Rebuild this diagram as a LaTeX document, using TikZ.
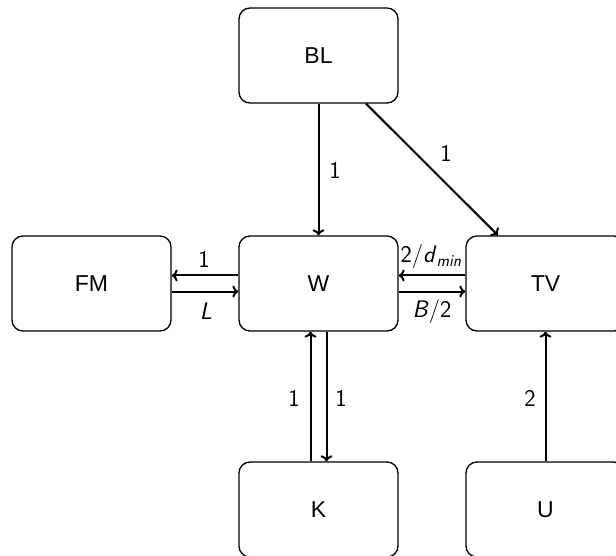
\documentclass[tikz,border=0pt]{standalone}
\usepackage{fontspec}
\newfontfamily\nodefont{Liberation Sans}
\usetikzlibrary{arrows.meta}
\begin{document}
\begin{tikzpicture}[x=1pt,y=-1pt,
  box/.style={draw, rounded corners=11pt, minimum width=159pt, minimum height=95pt,
    line width=1.3pt, font=\nodefont\fontsize{23}{27}\selectfont, inner sep=0pt},
  arr/.style={line width=2pt, -{To[length=6pt,width=12pt]}},
  lab/.style={font=\sffamily\fontsize{24}{28}\selectfont, inner sep=0pt}]
\useasboundingbox (0,0) rectangle (616,556);
\clip (0,0) rectangle (616,556);
\node[box] (BL) at (318.5,55.5) {BL};
\node[box] (FM) at (91.5,283.5) {FM};
\node[box] (W) at (318.5,283.5) {W};
\node[box] (TV) at (545.5,283.5) {TV};
\node[box] (K) at (318.5,509.5) {K};
\node[box] (U) at (545.5,509.5) {U};

\draw[arr] (BL) -- (W);
\draw[arr] ([xshift=47.5]BL.south) -- ([xshift=-47.5]TV.north);
\draw[arr] ([yshift=8]W.west) -- ([yshift=8]FM.east);
\draw[arr] ([yshift=-8]FM.east) -- ([yshift=-8]W.west);
\draw[arr] ([yshift=8]TV.west) -- ([yshift=8]W.east);
\draw[arr] ([yshift=-8]W.east) -- ([yshift=-8]TV.west);
\draw[arr] ([xshift=-8]K.north) -- ([xshift=-8]W.south);
\draw[arr] ([xshift=8]W.south) -- ([xshift=8]K.north);
\draw[arr] (U) -- (TV);

\node[lab] (l1) at (335,170) {1};
\node[lab] (l2) at (446,153) {1};
\node[lab] (l3) at (204,259) {1};
\node[lab] (l4) at (206,311) {\itshape L};
\node[lab] (l5) at (431,257) {2/\textit{d}\textsubscript{\itshape min}};
\node[lab] (l6) at (432,311) {\textit{B}/2};
\node[lab] (l7) at (294,398) {1};
\node[lab] (l8) at (341,398) {1};
\node[lab] (l9) at (530,398) {2};
\end{tikzpicture}
\end{document}
